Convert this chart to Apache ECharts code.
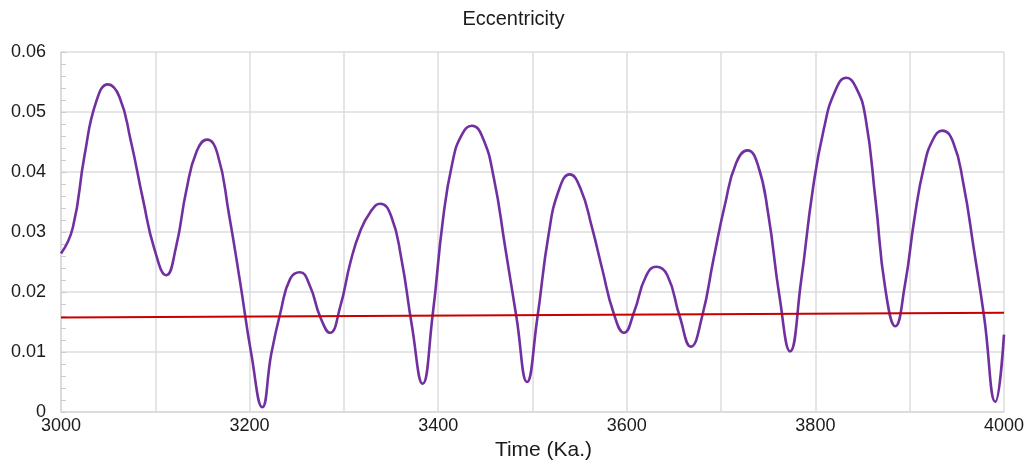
<!DOCTYPE html>
<html>
<head>
<meta charset="utf-8">
<script src="https://cdn.jsdelivr.net/npm/echarts@6/dist/echarts.min.js"></script>
<style>html,body{margin:0;padding:0;background:#fff;}#c{width:1027px;height:467px;}</style>
</head>
<body>
<div id="c"></div>
<script>
// Time (Ka.) sample positions (extremes plus points between them)
var times = [3000,3012.5,3025,3037.5,3049.8,3062,3074,3087,3099,3111.7,3122,3133,3144,3154.8,3166,3178,3190,3202,3213.5,3223,3233,3243,3253.4,3264,3275,3285.3,3296,3307,3317,3328,3338.6,3350,3361,3372,3383.5,3394,3405,3415,3425,3435.8,3447,3459,3471,3483,3494.2,3505,3517,3528,3539.4,3551,3563,3574,3586,3597,3608,3620,3631.3,3643,3656,3668,3680,3692,3704,3716,3728,3739,3750,3762,3773.1,3785,3797,3809,3821,3832.8,3843,3853,3864,3874,3884.8,3895,3905,3915,3925,3934.6,3946,3957,3968,3979,3990.8,4000];
// Eccentricity values at those times
var eccentricity = [0.0264,0.0307,0.0428,0.0518,0.0546,0.0525,0.0452,0.0354,0.0272,0.0228,0.0275,0.0370,0.0435,0.0454,0.0430,0.0331,0.0216,0.0095,0.0008,0.0097,0.0168,0.0222,0.0233,0.0210,0.0158,0.0132,0.0175,0.0250,0.0300,0.0333,0.0347,0.0327,0.0255,0.0145,0.0047,0.0160,0.0320,0.0415,0.0462,0.0477,0.0458,0.0390,0.0275,0.0158,0.0050,0.0155,0.0295,0.0370,0.0396,0.0372,0.0308,0.0238,0.0165,0.0132,0.0168,0.0225,0.0242,0.0228,0.0160,0.0109,0.0160,0.0255,0.0345,0.0415,0.0436,0.0412,0.0330,0.0192,0.0101,0.0220,0.0368,0.0472,0.0535,0.0557,0.0541,0.0492,0.0350,0.0207,0.0143,0.0212,0.0322,0.0408,0.0455,0.0469,0.0450,0.0380,0.0272,0.0158,0.0017,0.0129];
// Reference (red) line end points
var refTimes = [3000, 4000];
var refValues = [0.01576, 0.01653];
// Labelled x ticks
var xTickLabels = [3000, 3200, 3400, 3600, 3800, 4000];

var font = "'Liberation Sans', Arial, sans-serif";
var chart = echarts.init(document.getElementById('c'));
chart.setOption({
  animation: false,
  title: {
    text: 'Eccentricity', left: 'center', top: 4,
    textStyle: { fontFamily: font, fontSize: 20, fontWeight: 'normal', color: '#1a1a1a' }
  },
  grid: { left: 61, right: 23, top: 52, bottom: 55 },
  xAxis: {
    type: 'value', min: 3000, max: 4000, interval: 100,
    name: 'Time (Ka.)', nameLocation: 'middle', nameGap: 26,
    nameTextStyle: { fontFamily: font, fontSize: 21, color: '#1a1a1a', padding: [0, 0, 0, 22] },
    axisLine: { show: true, lineStyle: { color: '#d9d9d9', width: 1.5 } },
    axisTick: { show: false },
    axisLabel: {
      fontFamily: font, fontSize: 18, color: '#1a1a1a', margin: 5,
      formatter: function (v) { return xTickLabels.indexOf(v) >= 0 ? String(v) : ''; }
    },
    splitLine: { show: true, lineStyle: { color: '#dcdcdc', width: 1.5 } }
  },
  yAxis: {
    type: 'value', min: 0, max: 0.06, interval: 0.01,
    axisLine: { show: true, lineStyle: { color: '#d9d9d9', width: 1.5 } },
    axisTick: { show: true, inside: true, length: 5, lineStyle: { color: '#cccccc' } },
    minorTick: { show: true, splitNumber: 5, length: 5, lineStyle: { color: '#cccccc' } },
    axisLabel: {
      fontFamily: font, fontSize: 18, color: '#1a1a1a', margin: 15,
      formatter: function (v) { return v === 0 ? '0' : v.toFixed(2); }
    },
    splitLine: { show: true, lineStyle: { color: '#dcdcdc', width: 1.5 } }
  },
  series: [
    {
      type: 'line', smooth: 0.5, symbol: 'none', clip: false,
      data: times.map(function (t, i) { return [t, eccentricity[i]]; }),
      lineStyle: { color: '#7030a0', width: 2.6 }
    },
    {
      type: 'line', symbol: 'none',
      data: refTimes.map(function (t, i) { return [t, refValues[i]]; }),
      lineStyle: { color: '#c80000', width: 2 }
    }
  ]
});
</script>
</body>
</html>
